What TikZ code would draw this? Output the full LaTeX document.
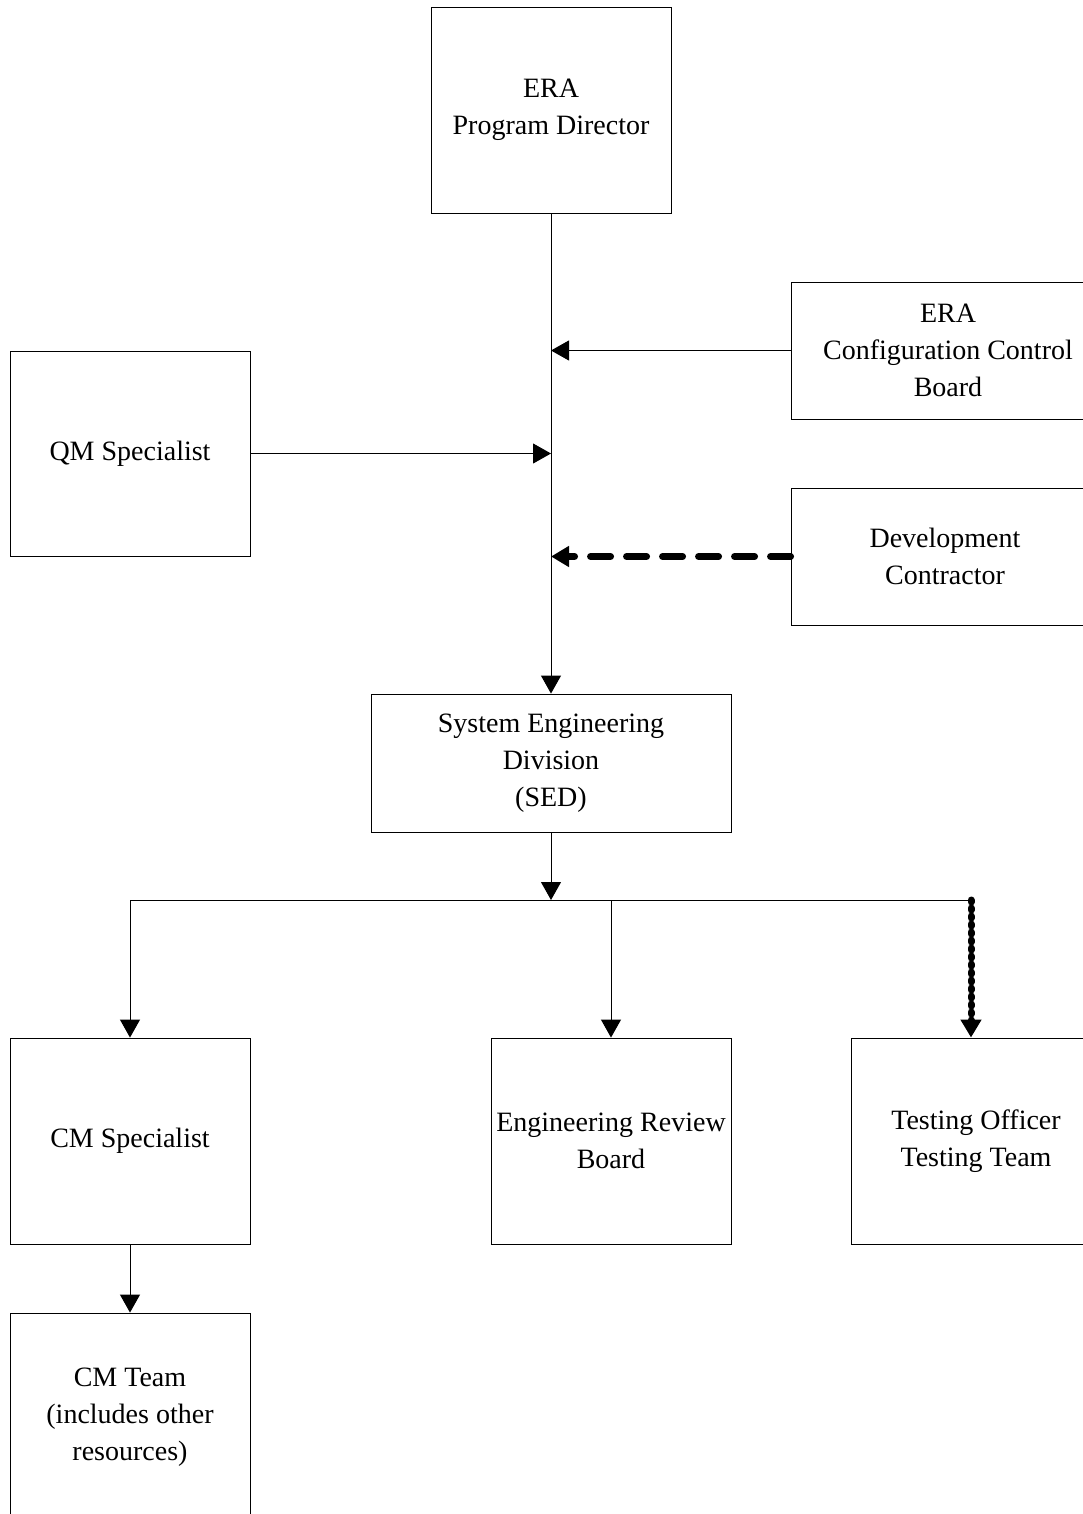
\documentclass[tikz,border=0pt]{standalone}
\usepackage{fontspec}
\setmainfont{Liberation Serif}
\usetikzlibrary{arrows.meta}
\begin{document}
\begin{tikzpicture}[x=1pt,y=-1pt,
  box/.style={draw, line width=0.9pt, inner sep=0pt, align=center, font=\fontsize{28}{37}\selectfont},
  thinline/.style={line width=1pt},
  arr/.style={line width=1pt, -{Triangle[length=18pt,width=20pt]}},
  darr/.style={line width=7pt, line cap=round, dash pattern=on 20pt off 16pt, -{Triangle[length=18pt,width=20pt]}},
  dotarr/.style={line width=7pt, line cap=round, dash pattern=on 2pt off 6pt, -{Triangle[length=18pt,width=20pt]}}]
\useasboundingbox (0,0) rectangle (1083,1514);
\clip (0,0) rectangle (1083,1514);
\node[box, minimum width=240pt, minimum height=206pt] (pd) at (551,110) {ERA\\Program Director};
\node[box, minimum width=314pt, minimum height=137pt] (ccb) at (948,350.5) {ERA\\Configuration Control\\Board};
\node[box, minimum width=240pt, minimum height=205pt] (qm) at (130,453.5) {QM Specialist};
\node[box, minimum width=308pt, minimum height=137pt] (dev) at (945,556.5) {Development\\Contractor};
\node[box, minimum width=360pt, minimum height=138pt] (sed) at (551,763) {System Engineering\\Division\\(SED)};
\node[box, minimum width=240pt, minimum height=206pt] (cms) at (130,1141) {CM Specialist};
\node[box, minimum width=240pt, minimum height=206pt] (erb) at (611,1141) {Engineering Review\\Board};
\node[box, minimum width=250pt, minimum height=206pt] (test) at (976,1141) {Testing Officer\\Testing Team};
\node[box, minimum width=240pt, minimum height=208pt] (cmt) at (130,1417) {CM Team\\(includes other\\resources)};
\draw[arr] (pd.south) -- (sed.north);
\draw[arr] (ccb.west) -- (ccb.west -| pd.south);
\draw[arr] (qm.east) -- (qm.east -| pd.south);
\draw[darr] (dev.west) -- (dev.west -| pd.south);
\coordinate (j) at (551,900);
\coordinate (jt) at (971,900);
\draw[arr] (sed.south) -- (j);
\draw[thinline] (j -| cms.north) -- (jt);
\draw[arr] (j -| cms.north) -- (cms.north);
\draw[arr] (j -| erb.north) -- (erb.north);
\draw[dotarr] (jt) -- (jt |- test.north);
\draw[arr] (cms.south) -- (cmt.north);
\end{tikzpicture}
\end{document}
